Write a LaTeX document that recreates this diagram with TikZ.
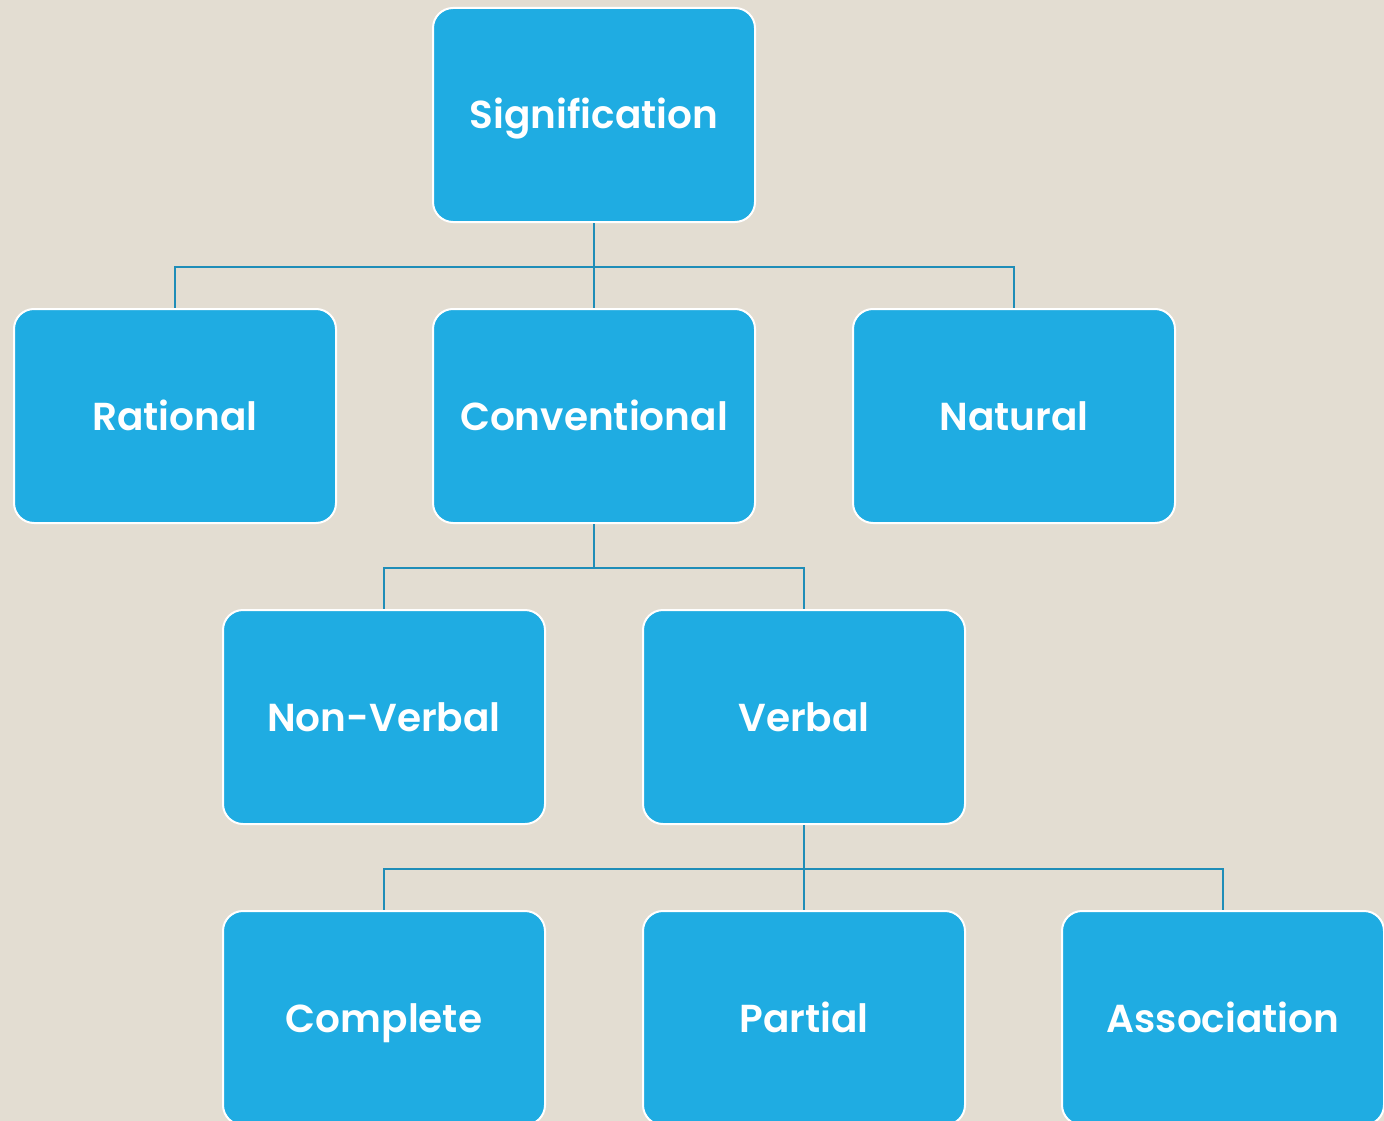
\documentclass[tikz,border=0pt]{standalone}
\usepackage{fontspec}
\setmainfont{Poppins}[BoldFont={* SemiBold}]
\definecolor{bgtan}{HTML}{E3DDD2}
\definecolor{boxblue}{HTML}{1FACE2}
\definecolor{linkblue}{HTML}{1F8DB8}
\tikzset{
  catbox/.style={draw=white, line width=2pt, fill=boxblue, rounded corners=20pt,
    minimum width=322pt, minimum height=214pt, inner sep=0pt,
    text height=28pt, text depth=0pt,
    text=white, font=\fontsize{39}{47}\selectfont\bfseries},
  link/.style={draw=linkblue, line width=2.4pt}
}
\begin{document}
\begin{tikzpicture}[x=1pt,y=-1pt]
  \useasboundingbox[fill=bgtan] (0,0) rectangle (1384,1121);
  \clip (0,0) rectangle (1384,1121);
  % tree levels
  \node[catbox] (sig)  at (594,115) {Signification};
  \node[catbox] (rat)  at (175,416) {Rational};
  \node[catbox] (conv) at (594,416) {Conventional};
  \node[catbox] (nat)  at (1014,416) {Natural};
  \node[catbox] (nonv) at (384,717) {Non-Verbal};
  \node[catbox] (verb) at (804,717) {Verbal};
  \node[catbox] (comp) at (384,1018) {Complete};
  \node[catbox] (part) at (804,1018) {Partial};
  \node[catbox] (assoc) at (1223,1018) {Association};
  % org-chart connectors
  \draw[link] (sig.south) -- ++(0,44) -| (rat.north);
  \draw[link] (sig.south) -- ++(0,44) -| (nat.north);
  \draw[link] (sig.south) -- (conv.north);
  \draw[link] (conv.south) -- ++(0,44) -| (nonv.north);
  \draw[link] (conv.south) -- ++(0,44) -| (verb.north);
  \draw[link] (verb.south) -- ++(0,44) -| (comp.north);
  \draw[link] (verb.south) -- ++(0,44) -| (assoc.north);
  \draw[link] (verb.south) -- (part.north);
\end{tikzpicture}
\end{document}
